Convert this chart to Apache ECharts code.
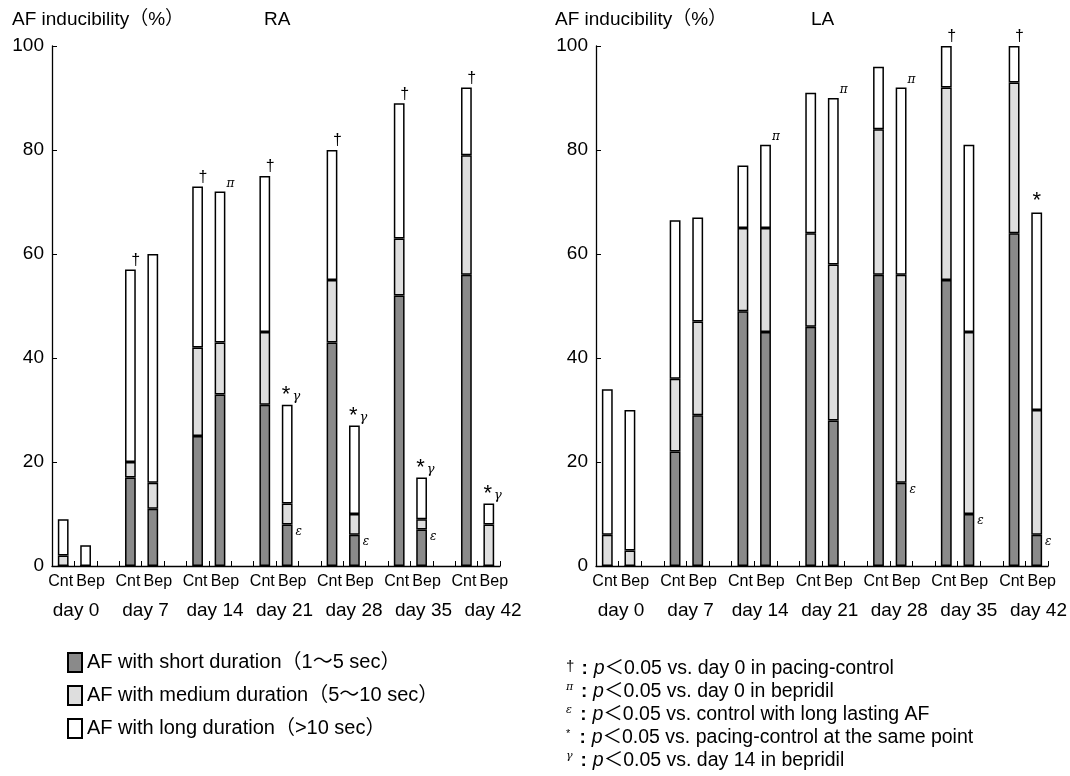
<!DOCTYPE html>
<html>
<head>
<meta charset="utf-8">
<title>AF inducibility RA / LA</title>
<script src="https://cdn.jsdelivr.net/npm/echarts@6/dist/echarts.min.js"></script>
<style>
  html, body { margin: 0; padding: 0; background: #fff; }
  #main { width: 1070px; height: 776px; }
</style>
</head>
<body>
<div id="main"></div>
<script>
// data (%)
const days = ['day 0', 'day 7', 'day 14', 'day 21', 'day 28', 'day 35', 'day 42'];
const seriesNames = [
  'AF with short duration（1～5 sec）',
  'AF with medium duration（5～10 sec）',
  'AF with long duration（>10 sec）'
];

// RA
const raCntShort = [0, 17, 25, 31, 43, 52, 56];
const raCntMedium = [2, 3, 17, 14, 12, 11, 23];
const raCntLong = [7, 37, 31, 30, 25, 26, 13];
const raBepShort = [0, 11, 33, 8, 6, 7, 0];
const raBepMedium = [0, 5, 10, 4, 4, 2, 8];
const raBepLong = [4, 44, 29, 19, 17, 8, 4];
const raCntMark = ['', '†', '†', '†', '†', '†', '†'];
const raBepMark = ['', '', 'π', '*γ', '*γ', '*γ', '*γ'];
const raBepEps = ['', '', '', 'ε', 'ε', 'ε', ''];

// LA
const laCntShort = [0, 22, 49, 46, 56, 55, 64];
const laCntMedium = [6, 14, 16, 18, 28, 37, 29];
const laCntLong = [28, 30.5, 12, 27, 12, 8, 7];
const laBepShort = [0, 29, 45, 28, 16, 10, 6];
const laBepMedium = [3, 18, 20, 30, 40, 35, 24];
const laBepLong = [27, 20, 16, 32, 36, 36, 38];
const laCntMark = ['', '', '', '', '', '†', '†'];
const laBepMark = ['', '', 'π', 'π', 'π', '', '*'];
const laBepEps = ['', '', '', '', 'ε', 'ε', 'ε'];

const colors = ['#8a8a8a', '#dedede', '#ffffff'];
const FONT = "'Liberation Sans', 'Noto Sans CJK JP', sans-serif";
const GREEK = "'DejaVu Serif', 'Liberation Serif', serif";

// Cnt, Bep, gap, Cnt, Bep, gap ... (no gap after the last day)
const slotLabels = [];
days.forEach(function (d, i) {
  slotLabels.push('Cnt', 'Bep');
  if (i < days.length - 1) slotLabels.push('');
});

function markLabel(m) {
  if (m === '†') {
    return { show: true, formatter: '†', position: ['100%', 0], align: 'center',
      verticalAlign: 'bottom', offset: [0, -1], fontSize: 16, color: '#000', fontFamily: FONT };
  }
  if (m === 'π') {
    return { show: true, formatter: 'π', position: ['100%', 0], align: 'left',
      verticalAlign: 'bottom', offset: [1, -2], fontSize: 12, fontStyle: 'italic',
      color: '#000', fontFamily: GREEK };
  }
  if (m === '*γ') {
    return { show: true, formatter: '{a|*}{g|γ}', position: [0, 0], align: 'left',
      verticalAlign: 'bottom', offset: [0, 1],
      rich: {
        a: { fontSize: 22, color: '#000', fontFamily: FONT, padding: [0, 2, 0, 0] },
        g: { fontSize: 13, fontStyle: 'italic', color: '#000', fontFamily: GREEK, padding: [4, 0, 0, 0] }
      } };
  }
  if (m === '*') {
    return { show: true, formatter: '*', position: 'top', distance: 0,
      fontSize: 22, color: '#000', fontFamily: FONT };
  }
  if (m === 'ε') {
    return { show: true, formatter: 'ε', position: ['100%', 0], align: 'left',
      verticalAlign: 'top', offset: [3, 1], fontSize: 12, fontStyle: 'italic',
      color: '#000', fontFamily: GREEK };
  }
  return { show: false };
}

// interleave Cnt/Bep values into the 20 axis slots
function slots(cnt, bep, cntMarks, bepMarks) {
  const out = [];
  for (let i = 0; i < days.length; i++) {
    const a = { value: cnt[i] };
    const b = { value: bep[i] };
    if (cntMarks && cntMarks[i]) a.label = markLabel(cntMarks[i]);
    if (bepMarks && bepMarks[i]) b.label = markLabel(bepMarks[i]);
    out.push(a, b);
    if (i < days.length - 1) out.push('-');
  }
  return out;
}

function barSeries(name, idx, stack, data, color) {
  return {
    name: name,
    type: 'bar',
    stack: stack,
    xAxisIndex: idx,
    yAxisIndex: idx,
    barWidth: '48%',
    data: data,
    itemStyle: { color: color, borderColor: '#000', borderWidth: 1.5 },
    emphasis: { disabled: true },
    animation: false
  };
}

function catAxis(gridIndex) {
  return {
    type: 'category',
    gridIndex: gridIndex,
    data: slotLabels,
    axisLine: { lineStyle: { color: '#000', width: 1.3 } },
    axisTick: { show: true, inside: true, length: 5, interval: 0, lineStyle: { color: '#000' } },
    axisLabel: {
      interval: 0, fontSize: 16, margin: 8, color: '#000', fontFamily: FONT,
      formatter: function (v) {
        if (v === 'Bep') return '{b|Bep}';
        if (v === 'Cnt') return '{c|Cnt}';
        return v;
      },
      rich: {
        b: { fontSize: 16, color: '#000', fontFamily: FONT, padding: [0, 0, 0, 10] },
        c: { fontSize: 16, color: '#000', fontFamily: FONT, padding: [0, 5, 0, 0] }
      }
    }
  };
}

function dayAxis(gridIndex) {
  return {
    type: 'category',
    gridIndex: gridIndex,
    boundaryGap: false,
    data: days,
    axisLine: { show: false },
    axisTick: { show: false },
    axisLabel: { interval: 0, fontSize: 19, margin: 35, color: '#000', fontFamily: FONT }
  };
}

function valAxis(gridIndex) {
  return {
    type: 'value',
    gridIndex: gridIndex,
    min: 0,
    max: 100,
    interval: 20,
    axisLine: { show: true, lineStyle: { color: '#000', width: 1.3 } },
    axisTick: { show: true, inside: true, length: 5, lineStyle: { color: '#000' } },
    splitLine: { show: false },
    axisLabel: { fontSize: 19, margin: 8, color: '#000', fontFamily: FONT }
  };
}

function footLine(sym, text, y) {
  const plain = sym === '†';
  return {
    type: 'text',
    left: 566,
    top: y,
    style: {
      text: '{s|' + sym + '}{c|:}{p|p}{n|＜0.05 ' + text + '}',
      rich: {
        s: { fontSize: plain ? 15 : 11, width: 11, align: 'center', color: '#000',
          fontFamily: sym === '*' || plain ? FONT : GREEK,
          fontStyle: plain || sym === '*' ? 'normal' : 'italic',
          verticalAlign: 'top', padding: [0, 0, plain ? 2 : 8, 0] },
        c: { fontSize: 19, width: 18, align: 'center', color: '#000', fontFamily: FONT, fontWeight: 'bold' },
        p: { fontSize: 19.5, fontStyle: 'italic', color: '#000', fontFamily: FONT },
        n: { fontSize: 19.5, color: '#000', fontFamily: FONT }
      }
    }
  };
}

const chart = echarts.init(document.getElementById('main'), null, { renderer: 'canvas' });

const option = {
  backgroundColor: '#fff',
  animation: false,
  textStyle: { fontFamily: FONT, color: '#000' },
  grid: [
    { left: 52, top: 46, width: 448, height: 520 },
    { left: 596, top: 46, width: 452, height: 520 },
    { left: 76, top: 46, width: 417, height: 520 },
    { left: 621, top: 46, width: 419, height: 520 }
  ],
  xAxis: [catAxis(0), catAxis(1), dayAxis(2), dayAxis(3)],
  yAxis: [valAxis(0), valAxis(1),
    { type: 'value', gridIndex: 2, show: false },
    { type: 'value', gridIndex: 3, show: false }],
  legend: {
    data: seriesNames,
    orient: 'vertical',
    left: 62,
    top: 647,
    icon: 'rect',
    itemWidth: 14,
    itemHeight: 19,
    itemGap: 12,
    selectedMode: false,
    textStyle: { fontSize: 20, color: '#000', fontFamily: FONT }
  },
  graphic: [
    { type: 'text', left: 12, top: 10, style: { text: 'AF inducibility（%）', fontSize: 19, fill: '#000', fontFamily: FONT } },
    { type: 'text', left: 264, top: 10, style: { text: 'RA', fontSize: 19, fill: '#000', fontFamily: FONT } },
    { type: 'text', left: 555, top: 10, style: { text: 'AF inducibility（%）', fontSize: 19, fill: '#000', fontFamily: FONT } },
    { type: 'text', left: 811, top: 10, style: { text: 'LA', fontSize: 19, fill: '#000', fontFamily: FONT } },
    footLine('†', 'vs. day 0 in pacing-control', 659),
    footLine('π', 'vs. day 0 in bepridil', 682),
    footLine('ε', 'vs. control with long lasting AF', 705),
    footLine('*', 'vs. pacing-control at the same point', 728),
    footLine('γ', 'vs. day 14 in bepridil', 751)
  ],
  series: [
    barSeries(seriesNames[0], 0, 'ra', slots(raCntShort, raBepShort, null, raBepEps), colors[0]),
    barSeries(seriesNames[1], 0, 'ra', slots(raCntMedium, raBepMedium), colors[1]),
    barSeries(seriesNames[2], 0, 'ra', slots(raCntLong, raBepLong, raCntMark, raBepMark), colors[2]),
    barSeries(seriesNames[0], 1, 'la', slots(laCntShort, laBepShort, null, laBepEps), colors[0]),
    barSeries(seriesNames[1], 1, 'la', slots(laCntMedium, laBepMedium), colors[1]),
    barSeries(seriesNames[2], 1, 'la', slots(laCntLong, laBepLong, laCntMark, laBepMark), colors[2])
  ]
};

chart.setOption(option);
</script>
</body>
</html>
